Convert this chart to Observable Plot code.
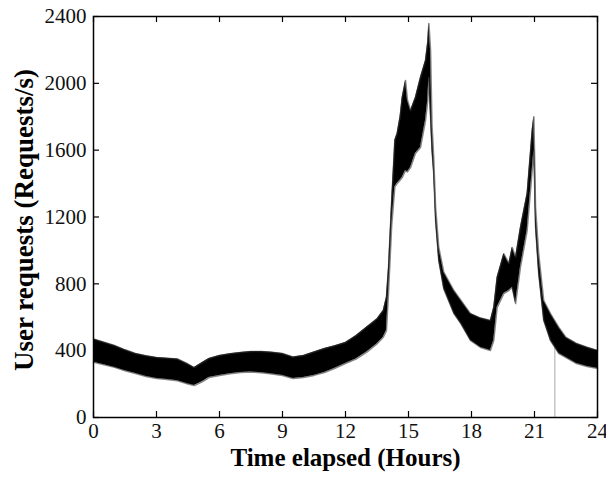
<!DOCTYPE html>
<html>
<head>
<meta charset="utf-8">
<script src="https://cdn.jsdelivr.net/npm/d3@7"></script>
<script src="https://cdn.jsdelivr.net/npm/@observablehq/plot@0.6"></script>
<style>
  html, body { margin: 0; padding: 0; background: #fff; }
</style>
</head>
<body>
<div id="chart"></div>
<script>
// Hours elapsed at which the noisy band was read
const hours = [0, 0.5, 1, 1.5, 2, 2.5, 3, 3.5, 4, 4.5, 4.8, 5.2, 5.5, 6, 6.5, 7, 7.5, 8, 8.5, 9, 9.5, 10, 10.5, 11, 11.5, 12, 12.5, 13, 13.5, 13.8, 13.95, 14.05, 14.2, 14.35, 14.46, 14.6, 14.7, 14.86, 14.95, 15.1, 15.33, 15.57, 15.81, 15.92, 15.97, 16.05, 16.12, 16.2, 16.29, 16.44, 16.68, 17.16, 17.5, 17.95, 18.43, 18.9, 19.06, 19.22, 19.54, 19.78, 19.94, 20.1, 20.33, 20.65, 20.89, 20.97, 21.05, 21.2, 21.44, 21.76, 22.16, 22.5, 23, 23.5, 24];
// Upper envelope of the request-rate band (requests/s)
const upper = [470, 450, 431, 405, 383, 370, 359, 355, 350, 320, 299, 330, 353, 371, 382, 389, 395, 395, 390, 383, 362, 371, 392, 413, 430, 449, 490, 540, 590, 640, 720, 900, 1300, 1660, 1700, 1800, 1915, 2017, 1900, 1837, 1915, 2035, 2137, 2250, 2358, 2200, 1750, 1560, 1260, 1020, 870, 760, 700, 622, 595, 580, 658, 838, 980, 922, 1018, 960, 1137, 1341, 1718, 1800, 1260, 980, 700, 622, 539, 479, 443, 420, 401];
// Lower envelope of the request-rate band (requests/s)
const lower = [330, 315, 300, 280, 263, 245, 233, 228, 220, 200, 191, 215, 239, 251, 262, 269, 272, 268, 260, 251, 233, 239, 252, 269, 295, 323, 350, 390, 440, 480, 520, 750, 1150, 1380, 1400, 1420, 1436, 1478, 1470, 1496, 1580, 1616, 1777, 1900, 2035, 1800, 1600, 1460, 1180, 940, 770, 622, 560, 461, 419, 401, 461, 658, 742, 760, 778, 682, 898, 1119, 1478, 1600, 1140, 862, 580, 461, 383, 359, 323, 305, 293];
// Isolated dip to zero
const spikeHours = [21.97];
const spikeTops = [430];

const xTicks = [0, 3, 6, 9, 12, 15, 18, 21, 24];
const yTicks = [0, 400, 800, 1200, 1600, 2000, 2400];
const xTitle = "Time elapsed (Hours)";
const yTitle = "User requests (Requests/s)";

const band = hours.map((h, i) => ({hour: h, upper: upper[i], lower: lower[i]}));
const spikes = spikeHours.map((h, i) => ({hour: h, top: spikeTops[i]}));

const W = 606, H = 480, ML = 93, MR = 9, MT = 16, MB = 63, TK = 6;
const plotW = W - ML - MR, plotH = H - MT - MB;

const chart = Plot.plot({
  width: W,
  height: H,
  marginLeft: ML,
  marginRight: MR,
  marginTop: MT,
  marginBottom: MB,
  style: {fontFamily: "'Liberation Serif', 'Times New Roman', serif", fontSize: "21px", color: "#111", background: "#fff"},
  x: {domain: [0, 24]},
  y: {domain: [0, 2400]},
  marks: [
    Plot.ruleX(spikes, {x: "hour", y1: 0, y2: "top", stroke: "#aaa", strokeWidth: 1}),
    Plot.areaY(band, {x: "hour", y1: "lower", y2: "upper", fill: "#000"}),
    Plot.lineY(band, {x: "hour", y: "upper", stroke: "#333", strokeWidth: 1.5, strokeOpacity: 0.6}),
    Plot.lineY(band, {x: "hour", y: "lower", stroke: "#333", strokeWidth: 1.5, strokeOpacity: 0.6}),
    // inward ticks on all four sides
    Plot.ruleX(xTicks, {x: d => d, insetTop: plotH - TK, stroke: "#000", strokeWidth: 1.2}),
    Plot.ruleX(xTicks, {x: d => d, insetBottom: plotH - TK, stroke: "#000", strokeWidth: 1.2}),
    Plot.ruleY(yTicks, {y: d => d, insetRight: plotW - TK, stroke: "#000", strokeWidth: 1.2}),
    Plot.ruleY(yTicks, {y: d => d, insetLeft: plotW - TK, stroke: "#000", strokeWidth: 1.2}),
    Plot.frame({stroke: "#000", strokeWidth: 1.5}),
    // tick labels
    Plot.axisX(xTicks, {anchor: "bottom", tickSize: 0, tickPadding: 6, fontSize: 21, tickFormat: d3.format("d"), label: null}),
    Plot.axisY(yTicks, {anchor: "left", tickSize: 0, tickPadding: 7, fontSize: 21, tickFormat: d3.format("d"), label: null}),
    // titles
    Plot.text([xTitle], {text: d => d, frameAnchor: "bottom", textAnchor: "middle", dy: 40, lineAnchor: "middle", fontSize: 25, fontWeight: "bold", fill: "#000"}),
    Plot.text([yTitle], {text: d => d, frameAnchor: "left", textAnchor: "middle", dx: -69, dy: 3, rotate: -90, lineAnchor: "middle", fontSize: 27, fontWeight: "bold", fill: "#000"})
  ]
});
document.getElementById("chart").appendChild(chart);
</script>
</body>
</html>
